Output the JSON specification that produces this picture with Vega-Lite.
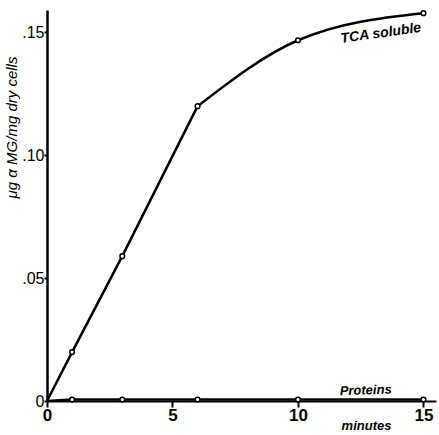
{
  "$schema": "https://vega.github.io/schema/vega-lite/v6.json",
  "width": 389,
  "height": 391,
  "padding": {"left": 47, "top": 10, "right": 3, "bottom": 34},
  "autosize": {"type": "none"},
  "background": "white",
  "config": {"view": {"stroke": null}, "font": "Liberation Sans"},
  "datasets": {
    "pts": [
      {"series": "TCA soluble", "min": 0, "val": 0},
      {"series": "TCA soluble", "min": 1, "val": 0.0199},
      {"series": "TCA soluble", "min": 3, "val": 0.0589},
      {"series": "TCA soluble", "min": 6, "val": 0.1199},
      {"series": "TCA soluble", "min": 10, "val": 0.1467},
      {"series": "TCA soluble", "min": 15, "val": 0.1577},
      {"series": "Proteins", "min": 0, "val": 0},
      {"series": "Proteins", "min": 1, "val": 0.0006},
      {"series": "Proteins", "min": 3, "val": 0.0006},
      {"series": "Proteins", "min": 6, "val": 0.0006},
      {"series": "Proteins", "min": 10, "val": 0.0006},
      {"series": "Proteins", "min": 15, "val": 0.0006}
    ],
    "labels": [
      {"label": "TCA soluble", "min": 13.3, "val": 0.1495, "angle": -8, "size": 14},
      {"label": "Proteins", "min": 12.7, "val": 0.0043, "angle": -2, "size": 13}
    ]
  },
  "layer": [
    {
      "data": {"name": "pts"},
      "transform": [{"filter": "datum.series == 'Proteins' || datum.min <= 6"}],
      "mark": {"type": "line", "interpolate": "linear", "color": "black", "strokeWidth": 2.5},
      "encoding": {
        "x": {"field": "min", "type": "quantitative", "scale": {"domain": [0, 15.5], "nice": false},
          "axis": {"values": [0, 5, 10, 15], "title": "minutes", "titleFontStyle": "italic", "titleFontWeight": "bold", "titleFontSize": 13, "titleX": 319, "titleY": 24, "titleBaseline": "middle", "titleAlign": "center",
            "grid": false, "domainColor": "black", "domainWidth": 2, "tickColor": "black", "tickWidth": 2, "tickSize": 6, "labelFontSize": 17, "labelFontWeight": "bold", "labelColor": "black", "labelPadding": 0, "labelFlush": false}},
        "y": {"field": "val", "type": "quantitative", "scale": {"domain": [0, 0.159], "nice": false},
          "axis": {"values": [0, 0.05, 0.1, 0.15], "labelExpr": "datum.value == 0 ? '0' : (datum.value > 0.12 ? '.15' : (datum.value > 0.07 ? '.10' : '.05'))", "title": "μg α MG/mg dry cells", "titleFontStyle": "italic", "titleFontWeight": "normal", "titleFontSize": 15, "titleX": -28, "titleY": 117, "titleAlign": "center", "titleBaseline": "bottom", "titleColor": "black",
            "grid": false, "domainColor": "black", "domainWidth": 2.5, "tickColor": "black", "tickWidth": 2, "tickSize": 3, "labelFontSize": 16, "labelFontWeight": "normal", "labelColor": "black", "labelPadding": 0, "labelFlush": false}},
        "detail": {"field": "series"}
      }
    },
    {
      "data": {"name": "pts"},
      "transform": [{"filter": "datum.series == 'TCA soluble' && datum.min >= 6"}],
      "mark": {"type": "line", "interpolate": "monotone", "color": "black", "strokeWidth": 2.5},
      "encoding": {
        "x": {"field": "min", "type": "quantitative"},
        "y": {"field": "val", "type": "quantitative"}
      }
    },
    {
      "data": {"name": "pts"},
      "transform": [{"filter": "datum.min > 0"}],
      "mark": {"type": "point", "filled": true, "fill": "white", "stroke": "black", "strokeWidth": 1.5, "size": 22, "opacity": 1},
      "encoding": {
        "x": {"field": "min", "type": "quantitative"},
        "y": {"field": "val", "type": "quantitative"}
      }
    },
    {
      "data": {"name": "labels"},
      "mark": {"type": "text", "fontStyle": "italic", "fontWeight": "bold", "font": "Liberation Sans", "color": "black", "align": "center", "baseline": "middle"},
      "encoding": {
        "x": {"field": "min", "type": "quantitative"},
        "y": {"field": "val", "type": "quantitative"},
        "text": {"field": "label"},
        "size": {"field": "size", "type": "quantitative", "scale": null},
        "angle": {"field": "angle", "type": "quantitative", "scale": null}
      }
    }
  ]
}
